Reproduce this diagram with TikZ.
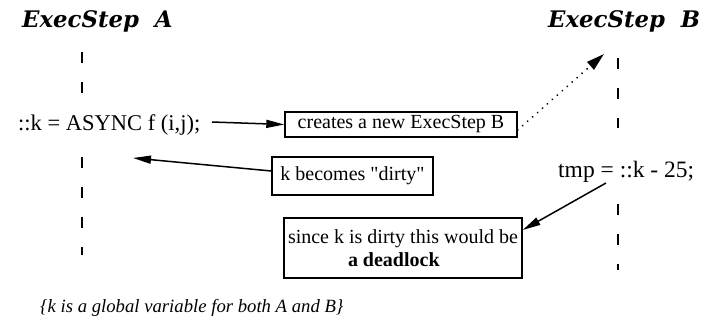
\documentclass[tikz,border=0pt]{standalone}
\usepackage{fontspec}
\setmainfont{Liberation Serif}[Ligatures=TeXOff]
\newfontfamily\headfont{DejaVu Serif}
\usetikzlibrary{arrows.meta}
\begin{document}
\begin{tikzpicture}[x=1pt,y=-1pt,
  lifeline/.style={line width=2.8pt,dash pattern=on 11pt off 19pt},
  head/.style={font=\headfont\bfseries\itshape\fontsize{22.8}{26}\selectfont,inner sep=0pt},
  code/.style={font=\fontsize{22.5}{26}\selectfont,inner sep=0pt},
  note/.style={draw,line width=1.4pt,font=\fontsize{20}{23}\selectfont,inner sep=0pt},
  msg/.style={line width=1.5pt,-{Triangle[length=18pt,width=8pt]}},
  spawn/.style={line width=2pt,line cap=round,dash pattern=on 0.1pt off 6.5pt,-{Triangle[length=18pt,width=10pt]}}]
\useasboundingbox (0,0) rectangle (710,321);

% thread headings
\node[head,anchor=base west] (hA) at (22,28) {ExecStep\ \ A};
\node[head,anchor=base west] (hB) at (548,28) {ExecStep\ \ B};

% lifelines
\draw[lifeline] (82,52) -- (82,95);
\draw[lifeline] (82,157) -- (82,255);
\draw[lifeline] (618,58) -- (618,128);
\draw[lifeline] (618,204) -- (618,270);

% statements
\node[code,anchor=base west] (async) at (18,130) {::k = ASYNC f (i,j);};
\node[code,anchor=base west,font=\fontsize{23.5}{27}\selectfont] (tmp) at (558,177) {tmp = ::k - 25;};

% notes
\node[note,minimum width=232pt,minimum height=25pt] (create) at (401,124.5) {creates a new ExecStep B};
\node[note,minimum width=161pt,minimum height=38pt] (dirty) at (352.5,176) {k becomes "dirty"};
\node[note,minimum width=238pt,minimum height=60pt,align=left] (dead) at (403,248)
  {since k is dirty this would be\\\hspace*{60pt}\textbf{a deadlock}};

% caption
\node[font=\itshape\fontsize{18.7}{22}\selectfont,anchor=base west,inner sep=0pt] (cap) at (40,312)
  {\{k is a global variable for both A and B\}};

% connectors
\coordinate (dirtyTip) at (133,158);
\coordinate (spawnTip) at (604,54);
\coordinate (tmpFoot) at (606,183);
\draw[msg] (212,122) -- (create.west);
\draw[msg] (dirty.west |- 0,171) -- (dirtyTip);
\draw[spawn] (create.east |- 0,130) -- (spawnTip);
\draw[msg] (tmpFoot) -- (dead.east |- 0,230);
\end{tikzpicture}
\end{document}
